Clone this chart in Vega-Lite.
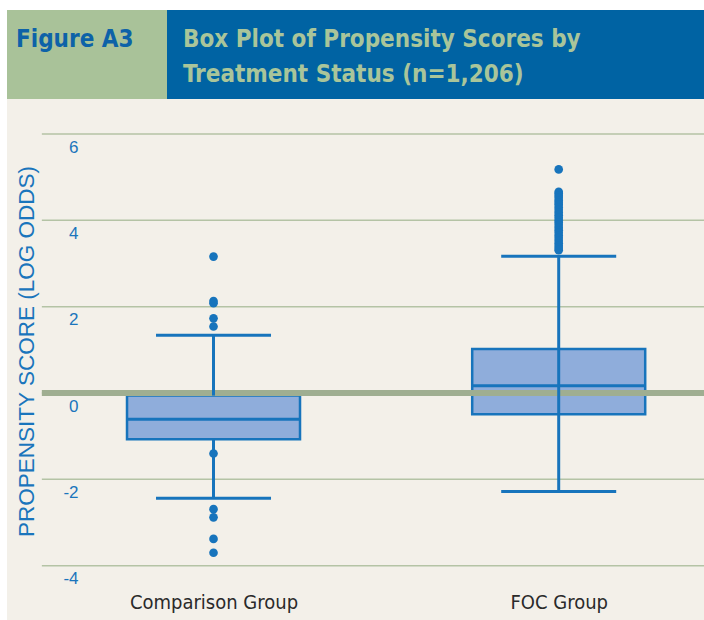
{
  "$schema": "https://vega.github.io/schema/vega-lite/v6.json",
  "background": "white",
  "padding": {"left": 7, "top": 10, "right": 0, "bottom": 0},
  "autosize": {"type": "pad"},
  "spacing": 0,
  "config": {
    "view": {"stroke": null},
    "concat": {"spacing": 0},
    "axisY": {
      "grid": false, "ticks": false, "tickSize": 0, "domain": false,
      "labelAlign": "right", "labelPadding": -71, "labelOffset": 13, "labelBaseline": "middle",
      "labelColor": "#1a75bc", "labelFont": "Liberation Sans", "labelFontSize": 17,
      "titleFont": "Liberation Sans", "titleFontSize": 22.5,
      "titleFontWeight": "normal", "titleColor": "#1a75bc", "titleX": 26, "titleY": 252,
      "titleAngle": -90, "titleAlign": "center", "titleBaseline": "alphabetic", "titleLimit": 0
    }
  },
  "datasets": {
    "summary": [
      {"group": "Comparison Group", "lower": -2.44, "q1": -1.07, "median": -0.61, "q3": -0.06, "upper": 1.34},
      {"group": "FOC Group", "lower": -2.28, "q1": -0.49, "median": 0.17, "q3": 1.02, "upper": 3.17}
    ],
    "whiskers": [
      {"group": "Comparison Group", "lo": -0.06, "hi": 1.34},
      {"group": "Comparison Group", "lo": -2.44, "hi": -1.07},
      {"group": "FOC Group", "lo": -2.28, "hi": 3.17}
    ],
    "outliers": [
      {"group": "Comparison Group", "value": 3.16},
      {"group": "Comparison Group", "value": 2.13},
      {"group": "Comparison Group", "value": 2.08},
      {"group": "Comparison Group", "value": 1.73},
      {"group": "Comparison Group", "value": 1.54},
      {"group": "Comparison Group", "value": -1.40},
      {"group": "Comparison Group", "value": -2.69},
      {"group": "Comparison Group", "value": -2.88},
      {"group": "Comparison Group", "value": -3.38},
      {"group": "Comparison Group", "value": -3.70},
      {"group": "FOC Group", "value": 5.18},
      {"group": "FOC Group", "value": 4.66},
      {"group": "FOC Group", "value": 4.62},
      {"group": "FOC Group", "value": 4.57},
      {"group": "FOC Group", "value": 4.52},
      {"group": "FOC Group", "value": 4.46},
      {"group": "FOC Group", "value": 4.41},
      {"group": "FOC Group", "value": 4.36},
      {"group": "FOC Group", "value": 4.30},
      {"group": "FOC Group", "value": 4.24},
      {"group": "FOC Group", "value": 4.18},
      {"group": "FOC Group", "value": 4.12},
      {"group": "FOC Group", "value": 4.06},
      {"group": "FOC Group", "value": 4.00},
      {"group": "FOC Group", "value": 3.95},
      {"group": "FOC Group", "value": 3.89},
      {"group": "FOC Group", "value": 3.83},
      {"group": "FOC Group", "value": 3.77},
      {"group": "FOC Group", "value": 3.71},
      {"group": "FOC Group", "value": 3.65},
      {"group": "FOC Group", "value": 3.59},
      {"group": "FOC Group", "value": 3.53},
      {"group": "FOC Group", "value": 3.47},
      {"group": "FOC Group", "value": 3.41},
      {"group": "FOC Group", "value": 3.36},
      {"group": "FOC Group", "value": 3.31}
    ],
    "grid": [{"v": -4}, {"v": -2}, {"v": 0}, {"v": 2}, {"v": 4}, {"v": 6}]
  },
  "vconcat": [
    {
      "spacing": 0,
      "hconcat": [
        {
          "width": 160,
          "height": 89,
          "view": {"fill": "#a9c299", "stroke": null},
          "data": {"values": [{"line": 1, "text": "Figure A3"}]},
          "mark": {"type": "text", "align": "left", "baseline": "alphabetic", "font": "DejaVu Sans Condensed, Roboto, sans-serif", "fontSize": 24, "fontWeight": "bold", "color": "#0d62a8", "dx": 9},
          "encoding": {
            "text": {"field": "text"},
            "x": {"datum": 0, "type": "quantitative", "scale": {"domain": [0, 1]}, "axis": null},
            "y": {"field": "line", "type": "ordinal", "scale": {"type": "point", "padding": 0.5, "align": 0.416}, "axis": null}
          }
        },
        {
          "width": 537,
          "height": 89,
          "view": {"fill": "#0063a3", "stroke": null},
          "data": {"values": [
            {"line": 1, "text": "Box Plot of Propensity Scores by"},
            {"line": 2, "text": "Treatment Status (n=1,206)"}
          ]},
          "mark": {"type": "text", "align": "left", "baseline": "alphabetic", "font": "DejaVu Sans Condensed, Roboto, sans-serif", "fontSize": 24, "fontWeight": "bold", "color": "#a9c59a", "dx": 16},
          "encoding": {
            "text": {"field": "text"},
            "x": {"datum": 0, "type": "quantitative", "scale": {"domain": [0, 1]}, "axis": null},
            "y": {"field": "line", "type": "ordinal", "scale": {"type": "point", "padding": 0.771, "align": 0.685}, "axis": null}
          }
        }
      ]
    },
    {
      "width": 697,
      "height": 521,
      "view": {"fill": "#f3f0e9", "stroke": null},
      "resolve": {"scale": {"x": "independent"}, "axis": {"x": "independent"}},
      "layer": [
        {
          "data": {"name": "grid"},
          "mark": {"type": "rule", "color": "#b4c3a5", "strokeWidth": 1.5},
          "encoding": {
            "x": {"datum": 0.05, "type": "quantitative", "scale": {"domain": [0, 1]}, "axis": null},
            "x2": {"datum": 1},
            "y": {
              "field": "v", "type": "quantitative", "title": "PROPENSITY SCORE (LOG ODDS)",
              "scale": {"domain": [-5.258, 6.811], "nice": false, "zero": false},
              "axis": {"values": [-4, -2, 0, 2, 4, 6], "labelExpr": "'' + datum.value"}
            }
          }
        },
        {
          "data": {"name": "summary"},
          "mark": {"type": "bar", "size": 173, "fill": "#8faddb", "stroke": "#1774bc", "strokeWidth": 2.5},
          "encoding": {
            "x": {
              "field": "group", "type": "nominal",
              "scale": {"type": "point", "padding": 0.5096, "align": 0.587},
              "axis": {
                "title": null, "ticks": false, "tickSize": 0, "domain": false, "grid": false, "labelAngle": 0,
                "labelPadding": -12, "labelBaseline": "alphabetic", "labelFont": "DejaVu Sans Condensed, Roboto, sans-serif",
                "labelFontSize": 20, "labelColor": "#2a2a2a", "labelLimit": 0
              }
            },
            "y": {"field": "q1", "type": "quantitative", "title": "PROPENSITY SCORE (LOG ODDS)", "scale": {"domain": [-5.258, 6.811], "nice": false, "zero": false}, "axis": {"values": [-4, -2, 0, 2, 4, 6], "labelExpr": "'' + datum.value"}},
            "y2": {"field": "q3"}
          }
        },
        {
          "data": {"values": [{"ref": 0}]},
          "mark": {"type": "rule", "color": "#9fae91", "strokeWidth": 6},
          "encoding": {
            "x": {"datum": 0.05, "type": "quantitative", "scale": {"domain": [0, 1]}, "axis": null},
            "x2": {"datum": 1},
            "y": {"field": "ref", "type": "quantitative", "title": "PROPENSITY SCORE (LOG ODDS)", "scale": {"domain": [-5.258, 6.811], "nice": false, "zero": false}, "axis": {"values": [-4, -2, 0, 2, 4, 6], "labelExpr": "'' + datum.value"}}
          }
        },
        {
          "encoding": {
            "x": {"field": "group", "type": "nominal", "scale": {"type": "point", "padding": 0.5096, "align": 0.587}, "axis": null}
          },
          "layer": [
            {
              "data": {"name": "whiskers"},
              "mark": {"type": "rule", "color": "#1774bc", "strokeWidth": 3},
              "encoding": {
                "y": {"field": "lo", "type": "quantitative", "title": "PROPENSITY SCORE (LOG ODDS)", "scale": {"domain": [-5.258, 6.811], "nice": false, "zero": false}, "axis": {"values": [-4, -2, 0, 2, 4, 6], "labelExpr": "'' + datum.value"}},
                "y2": {"field": "hi"}
              }
            },
            {
              "data": {"name": "summary"},
              "mark": {"type": "tick", "size": 173, "thickness": 3, "color": "#1774bc", "opacity": 1},
              "encoding": {
                "y": {"field": "median", "type": "quantitative", "title": "PROPENSITY SCORE (LOG ODDS)", "scale": {"domain": [-5.258, 6.811], "nice": false, "zero": false}, "axis": {"values": [-4, -2, 0, 2, 4, 6], "labelExpr": "'' + datum.value"}}
              }
            },
            {
              "data": {"name": "summary"},
              "mark": {"type": "tick", "size": 115, "thickness": 3, "color": "#1774bc", "opacity": 1},
              "encoding": {
                "y": {"field": "upper", "type": "quantitative", "title": "PROPENSITY SCORE (LOG ODDS)", "scale": {"domain": [-5.258, 6.811], "nice": false, "zero": false}, "axis": {"values": [-4, -2, 0, 2, 4, 6], "labelExpr": "'' + datum.value"}}
              }
            },
            {
              "data": {"name": "summary"},
              "mark": {"type": "tick", "size": 115, "thickness": 3, "color": "#1774bc", "opacity": 1},
              "encoding": {
                "y": {"field": "lower", "type": "quantitative", "title": "PROPENSITY SCORE (LOG ODDS)", "scale": {"domain": [-5.258, 6.811], "nice": false, "zero": false}, "axis": {"values": [-4, -2, 0, 2, 4, 6], "labelExpr": "'' + datum.value"}}
              }
            },
            {
              "data": {"name": "outliers"},
              "mark": {"type": "circle", "size": 75, "opacity": 1, "color": "#1774bc"},
              "encoding": {
                "y": {"field": "value", "type": "quantitative", "title": "PROPENSITY SCORE (LOG ODDS)", "scale": {"domain": [-5.258, 6.811], "nice": false, "zero": false}, "axis": {"values": [-4, -2, 0, 2, 4, 6], "labelExpr": "'' + datum.value"}}
              }
            }
          ]
        }
      ]
    }
  ]
}
